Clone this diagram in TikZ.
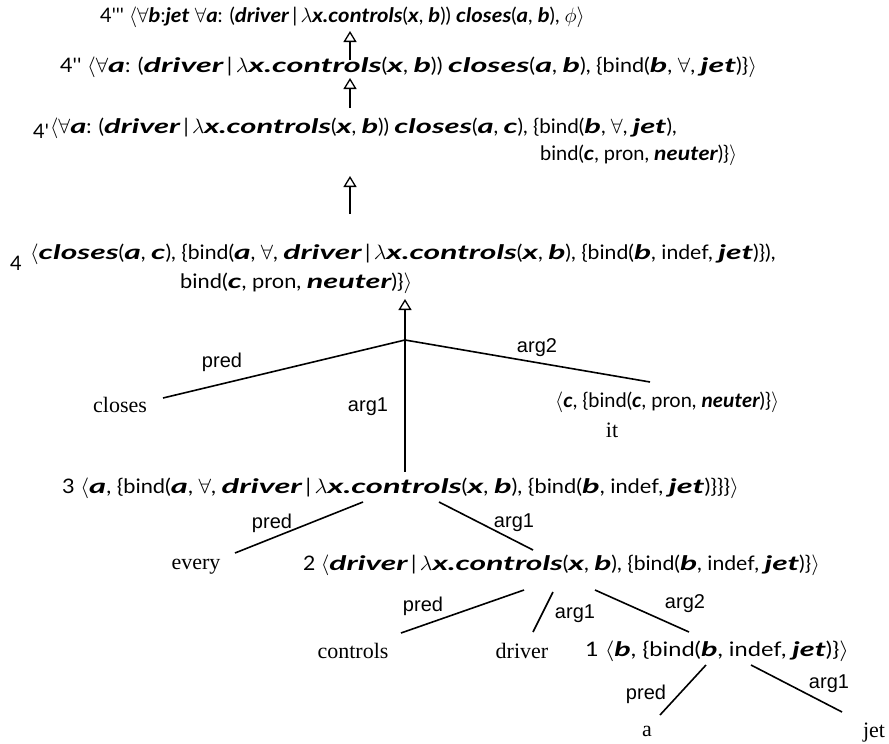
\documentclass[tikz,border=0pt]{standalone}
\usepackage{fontspec}
\usepackage{graphicx}
\usetikzlibrary{arrows.meta}
\newfontfamily\frm{Lato}
\newfontfamily\lab{Liberation Sans}
\newfontfamily\wrd{Liberation Serif}
\newcommand{\la}{\ensuremath{\langle}}
\newcommand{\ra}{\ensuremath{\rangle}}
\newcommand{\fa}{\ensuremath{\forall}}
\newcommand{\lmb}{\ensuremath{\lambda}}
\def\itsx{1}
\newcommand{\iv}[1]{\scalebox{\itsx}[1]{\bfseries\itshape #1}}
\newcommand{\ws}[2]{\scalebox{#1}[1]{#2}}
\begin{document}
\begin{tikzpicture}[x=1pt,y=-1pt,
  formula/.style={font=\frm\fontsize{20}{24}\selectfont, anchor=base west, inner sep=0pt},
  isx/.style={execute at begin node={\def\itsx{#1}}},
  lbl/.style={font=\lab\fontsize{20}{24}\selectfont, inner sep=0pt},
  word/.style={font=\wrd\fontsize{22}{26}\selectfont, inner sep=0pt},
  edge/.style={line width=1.6pt},
  up/.style={line width=1.3pt, -{Triangle[open, length=11pt, width=13pt, line width=1.3pt]}}]
\useasboundingbox (0,0) rectangle (889,744);

% derivation lines
\node[formula, isx=1.1] (L1) at (100,22) {4''' \la\fa\iv{b}:\iv{jet} \fa\iv{a}: (\iv{driver}\,|\,\lmb\iv{x.controls}(\iv{x}, \iv{b})) \iv{closes}(\iv{a}, \iv{b}), \ensuremath{\phi}\ra};
\node[formula, isx=1.5] (L2) at (60,72) {\ws{1.08}{4'' \la\fa\iv{a}: (\iv{driver}\,|\,\lmb\iv{x.controls}(\iv{x}, \iv{b})) \iv{closes}(\iv{a}, \iv{b}), \{bind(\iv{b}, \fa, \iv{jet})\}\ra}};
\node[formula] (L3n) at (33,138) {4'};
\node[formula, isx=1.5] (L3) at (50,133) {\ws{1.03}{\la\fa\iv{a}: (\iv{driver}\,|\,\lmb\iv{x.controls}(\iv{x}, \iv{b})) \iv{closes}(\iv{a}, \iv{c}), \{bind(\iv{b}, \fa, \iv{jet}),}};
\node[formula, isx=1.15] (L3b) at (540,160) {bind(\iv{c}, pron, \iv{neuter})\}\ra};
\node[formula] (L4n) at (10,270) {4};
\node[formula, isx=1.5] (L4) at (30,259) {\ws{1.06}{\la\iv{closes}(\iv{a}, \iv{c}), \{bind(\iv{a}, \fa, \iv{driver}\,|\,\lmb\iv{x.controls}(\iv{x}, \iv{b}), \{bind(\iv{b}, indef, \iv{jet})\}),}};
\node[formula, isx=1.4] (L4b) at (180,288) {\ws{1.09}{bind(\iv{c}, pron, \iv{neuter})\}\ra}};

\coordinate (a1b) at (350,60); \coordinate (a1t) at (350,31);
\coordinate (a2b) at (350,108); \coordinate (a2t) at (350,78);
\coordinate (a3b) at (350,214); \coordinate (a3t) at (350,176);
\coordinate (root) at (405,340); \coordinate (a4t) at (405,299);
\draw[up] (a1b) -- (a1t);
\draw[up] (a2b) -- (a2t);
\draw[up] (a3b) -- (a3t);
\draw[up] (root) -- (a4t);

% tree level 4
\node[word] (closes) at (120,405) {closes};
\node[formula, isx=1.05] (cnode) at (555,407) {\la\iv{c}, \{bind(\iv{c}, pron, \iv{neuter})\}\ra};
\node[word] (it) at (612,430) {it};
\coordinate (clE) at (163,398);
\coordinate (n3T) at (405,472);
\coordinate (cnE) at (650,382);
\draw[edge] (root) -- (clE);
\draw[edge] (root) -- (n3T);
\draw[edge] (root) -- (cnE);
\node[lbl] (p4) at (222,362) {pred};
\node[lbl] (g41) at (368,407) {arg1};
\node[lbl] (g42) at (537,348) {arg2};

% node 3
\node[formula, isx=1.5] (n3) at (62,493) {\ws{1.09}{3 \la\iv{a}, \{bind(\iv{a}, \fa, \iv{driver}\,|\,\lmb\iv{x.controls}(\iv{x}, \iv{b}), \{bind(\iv{b}, indef, \iv{jet})\}\}\}\ra}};
\coordinate (n3p) at (363,502); \coordinate (evE) at (235,553);
\coordinate (n3a) at (439,502); \coordinate (n2T) at (533,550);
\draw[edge] (n3p) -- (evE);
\draw[edge] (n3a) -- (n2T);
\node[lbl] (p3) at (272,523) {pred};
\node[lbl] (g31) at (514,523) {arg1};
\node[word] (every) at (196,567) {every};

% node 2
\node[formula, isx=1.5] (n2) at (303,570) {\ws{1.06}{2 \la\iv{driver}\,|\,\lmb\iv{x.controls}(\iv{x}, \iv{b}), \{bind(\iv{b}, indef, \iv{jet})\}\ra}};
\coordinate (n2p) at (524,590); \coordinate (ctE) at (401,633);
\coordinate (n2a) at (553,592); \coordinate (drE) at (533,632);
\coordinate (n2b) at (595,590); \coordinate (n1T) at (689,632);
\draw[edge] (n2p) -- (ctE);
\draw[edge] (n2a) -- (drE);
\draw[edge] (n2b) -- (n1T);
\node[lbl] (p2) at (423,606) {pred};
\node[lbl] (g21) at (575,614) {arg1};
\node[lbl] (g22) at (685,604) {arg2};
\node[word] (controls) at (353,651) {controls};
\node[word] (driver) at (522,651) {driver};

% node 1
\node[formula, isx=1.3] (n1) at (585,656) {\ws{1.18}{1 \la\iv{b}, \{bind(\iv{b}, indef, \iv{jet})\}\ra}};
\coordinate (n1p) at (706,665); \coordinate (aE) at (660,715);
\coordinate (n1a) at (751,665); \coordinate (jE) at (842,712);
\draw[edge] (n1p) -- (aE);
\draw[edge] (n1a) -- (jE);
\node[lbl] (p1) at (646,694) {pred};
\node[lbl] (g11) at (829,684) {arg1};
\node[word] (a) at (647,731) {a};
\node[word] (jet) at (874,733) {jet};
\end{tikzpicture}
\end{document}
